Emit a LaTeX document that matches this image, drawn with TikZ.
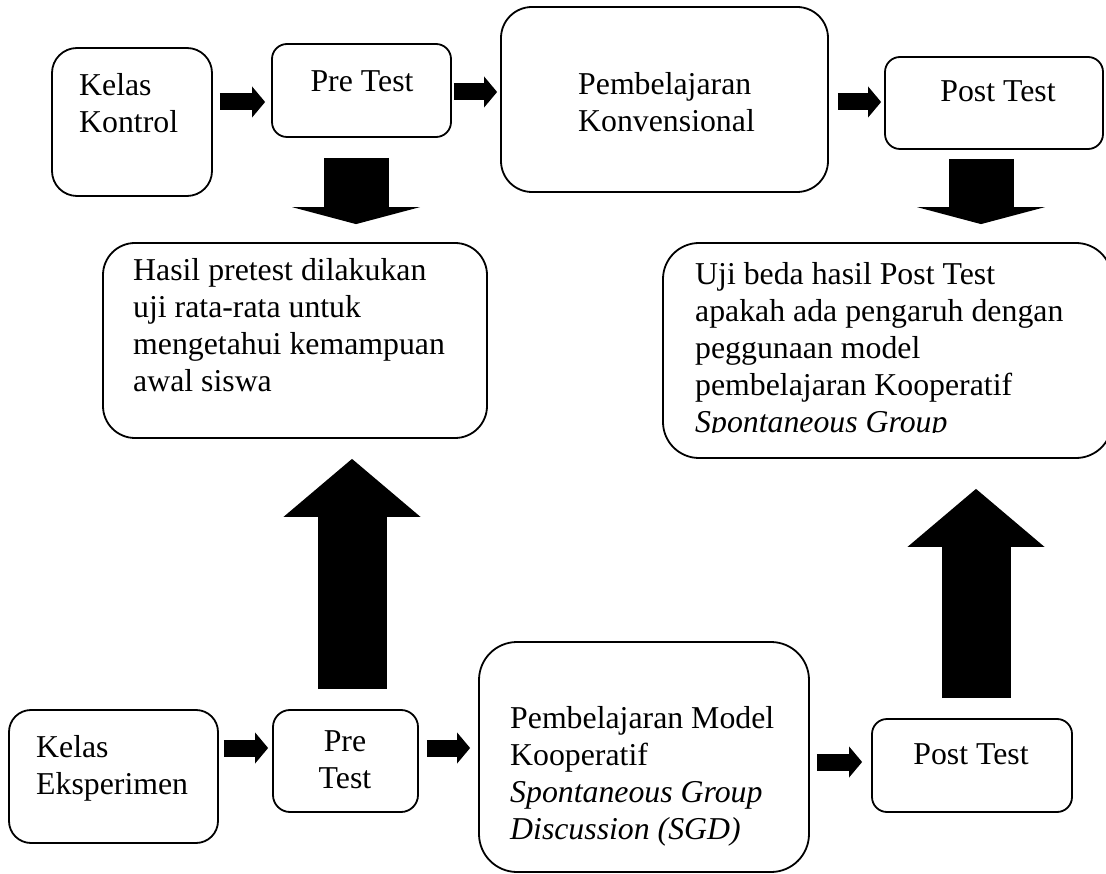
\documentclass[tikz,border=0pt]{standalone}
\usepackage{fontspec}
\setmainfont{Liberation Serif}
\usetikzlibrary{arrows.meta}

\begin{document}
\begin{tikzpicture}[x=1pt, y=-1pt,
    box/.style={draw, line width=1.8pt, inner sep=0pt},
    txt/.style={inner sep=0pt, align=left, font=\fontsize{31.8}{37}\selectfont},
    smallarrow/.style={line width=17pt, -{Triangle[length=13pt, width=31pt, line width=0pt]}},
    bigdown/.style={line width=65pt, -{Triangle[length=17pt, width=128pt, line width=0pt]}},
    bigup/.style={line width=69pt, -{Triangle[length=58pt, width=137pt, line width=0pt]}}]
    \useasboundingbox (0,0) rectangle (1106,874);
    % top row: kelas kontrol
    \node[box, minimum width=160pt, minimum height=148pt, rounded corners=25pt] (kontrol) at (132,122) {};
    \node[box, minimum width=179pt, minimum height=93pt,  rounded corners=15pt] (pre1)    at (361.5,90.5) {};
    \node[box, minimum width=327pt, minimum height=185pt, rounded corners=31pt] (konv)    at (664.5,99.5) {};
    \node[box, minimum width=218pt, minimum height=92pt,  rounded corners=15pt] (post1)   at (994,103) {};
    \node[txt, anchor=north west] (kontroltxt) at (79,73)  {Kelas\\Kontrol};
    \node[txt, anchor=north]      (pre1txt)    at (362,70) {Pre Test};
    \node[txt, anchor=north west] (konvtxt)    at (578,72) {Pembelajaran\\Konvensional};
    \node[txt, anchor=north]      (post1txt)   at (998,80) {Post Test};
    %
    \draw[smallarrow, shorten <=7pt, shorten >=6pt] (kontrol.east |- 0,102) -- (pre1.west |- 0,102);
    \draw[smallarrow, shorten <=2pt, shorten >=3pt] (pre1.east |- 0,92)     -- (konv.west |- 0,92);
    \draw[smallarrow, shorten <=9pt, shorten >=3pt] (konv.east |- 0,102)    -- (post1.west |- 0,102);
    % middle: hasil and uji beda
    \node[box, minimum width=384pt, minimum height=195pt, rounded corners=32pt] (hasil) at (295,340.5) {};
    \node[box, minimum width=449pt, minimum height=215pt, rounded corners=36pt] (uji)   at (887.5,350.5) {};
    \node[txt, anchor=north west] (hasiltxt) at (133,258)
        {Hasil pretest dilakukan\\uji rata-rata untuk\\mengetahui kemampuan\\awal siswa};
    \begin{scope}
        \clip (uji.north west) rectangle (1106,433);
        \node[txt, anchor=north west] (ujitxt) at (695,262)
            {Uji beda hasil Post Test\\apakah ada pengaruh dengan\\peggunaan model\\pembelajaran Kooperatif\\\textit{Spontaneous Group}};
    \end{scope}
    %
    \draw[bigdown, shorten <=20pt, shorten >=18pt] (pre1.south -| 356,0)  -- (hasil.north -| 356,0);
    \draw[bigdown, shorten <=9pt,  shorten >=18pt] (post1.south -| 981,0) -- (uji.north -| 981,0);
    % bottom row: kelas eksperimen
    \node[box, minimum width=209pt, minimum height=133pt, rounded corners=22pt] (eksp)  at (113.5,776.5) {};
    \node[box, minimum width=145pt, minimum height=102pt, rounded corners=17pt] (pre2)  at (345.5,761) {};
    \node[box, minimum width=330pt, minimum height=230pt, rounded corners=38pt] (model) at (644,757) {};
    \node[box, minimum width=200pt, minimum height=93pt,  rounded corners=15pt] (post2) at (972,765.5) {};
    \node[txt, anchor=north west]       (eksptxt)  at (36,735)  {Kelas\\Eksperimen};
    \node[txt, anchor=north, align=center] (pre2txt) at (345,730) {Pre\\Test};
    \node[txt, anchor=north west]       (modeltxt) at (510,706)
        {Pembelajaran Model\\Kooperatif\\\textit{Spontaneous Group}\\\textit{Discussion (SGD)}};
    \node[txt, anchor=north]            (post2txt) at (971,743) {Post Test};
    %
    \draw[smallarrow, shorten <=5pt, shorten >=4pt] (eksp.east |- 0,748)  -- (pre2.west |- 0,748);
    \draw[smallarrow, shorten <=8pt, shorten >=8pt] (pre2.east |- 0,748)  -- (model.west |- 0,748);
    \draw[smallarrow, shorten <=7pt, shorten >=9pt] (model.east |- 0,762) -- (post2.west |- 0,762);
    %
    \draw[bigup, shorten <=20pt, shorten >=20pt] (pre2.north -| 352,0)  -- (hasil.south -| 352,0);
    \draw[bigup, shorten <=20pt, shorten >=30pt] (post2.north -| 976,0) -- (uji.south -| 976,0);
\end{tikzpicture}
\end{document}
